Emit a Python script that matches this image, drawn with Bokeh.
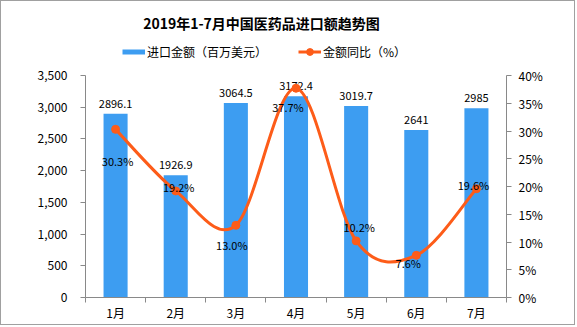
from bokeh.plotting import figure
from bokeh.models import (ColumnDataSource, Range1d, LinearAxis, FixedTicker, NumeralTickFormatter,
                          PrintfTickFormatter, CustomJSTickFormatter, Label, Legend, LegendItem)
from bokeh.core.properties import value
from bokeh.embed import file_html
from bokeh.resources import INLINE

# ---- data ----
title_text = "2019年1-7月中国医药品进口额趋势图"
months = ["1月", "2月", "3月", "4月", "5月", "6月", "7月"]
import_value = [2896.1, 1926.9, 3064.5, 3172.4, 3019.7, 2641, 2985]   # 百万美元
growth_pct = [30.3, 19.2, 13.0, 37.7, 10.2, 7.6, 19.6]                # %
left_ticks = [0, 500, 1000, 1500, 2000, 2500, 3000, 3500]
right_ticks = [0, 5, 10, 15, 20, 25, 30, 35, 40]
series_names = ["进口金额（百万美元）", "金额同比（%）"]

# label nudges (screen px) for the percentage labels, as placed in the original
pct_label_dx = [2, 3, -4, -8, 3, -8, -3]
pct_label_dy = [32, -4, 20, 19, -14, 8, -4]

BLUE = "#3d9df1"
ORANGE = "#fd5c19"
AXIS = "#898989"
FONT = "Noto Sans CJK SC"

# layout (px): plotting area spans canvas rows 0..FRAME_H, axes occupy the lower AXIS_H px
FRAME_H = 296
AXIS_H = 222
stretch = FRAME_H / AXIS_H

n = len(months)
xs = [i + 0.5 for i in range(n)]

src = ColumnDataSource(dict(
    x=xs,
    value=import_value,
    vlabel=["{:g}".format(v) for v in import_value],
    growth=growth_pct,
    glabel=["{:.1f}%".format(g) for g in growth_pct],
    dx=pct_label_dx,
    dy=pct_label_dy,
))

p = figure(width=575, height=325, output_backend="svg", toolbar_location=None,
           x_range=Range1d(0, n),
           y_range=Range1d(left_ticks[0], left_ticks[-1] * stretch),
           min_border_left=84, min_border_right=70, min_border_top=0, min_border_bottom=29)
p.styles = {"border": "1px solid #a0a0a0"}
p.outline_line_color = None
p.xgrid.grid_line_color = None
p.ygrid.grid_line_color = None
p.background_fill_color = "white"
p.border_fill_color = "white"

p.extra_y_ranges = {"pct": Range1d(right_ticks[0], right_ticks[-1] * stretch)}

# ---- axes ----
xa = p.xaxis[0]
xa.ticker = FixedTicker(ticks=xs, minor_ticks=list(range(n + 1)))
xa.formatter = CustomJSTickFormatter(args=dict(labels=months),
                                     code="return labels[Math.floor(tick)] || ''")
xa.major_tick_line_color = None
xa.major_tick_out = 0
xa.major_tick_in = 0
xa.minor_tick_line_color = AXIS
xa.minor_tick_out = 5
xa.minor_tick_in = 0
xa.axis_line_color = AXIS
xa.major_label_standoff = 1
xa.major_label_text_font = FONT
xa.major_label_text_font_size = "12px"
xa.major_label_text_color = "#000000"

ya = p.yaxis[0]
ya.ticker = FixedTicker(ticks=left_ticks)
ya.bounds = (left_ticks[0], left_ticks[-1])
ya.formatter = NumeralTickFormatter(format="0,0")
ya.axis_line_color = AXIS
ya.major_tick_line_color = AXIS
ya.major_tick_out = 5
ya.major_tick_in = 0
ya.minor_tick_line_color = None
ya.major_label_standoff = 13
ya.major_label_text_font = FONT
ya.major_label_text_font_size = "12px"
ya.major_label_text_color = "#000000"

ra = LinearAxis(y_range_name="pct", ticker=FixedTicker(ticks=right_ticks),
                bounds=(right_ticks[0], right_ticks[-1]),
                formatter=PrintfTickFormatter(format="%d%%"))
ra.axis_line_color = AXIS
ra.major_tick_line_color = AXIS
ra.major_tick_out = 5
ra.major_tick_in = 0
ra.minor_tick_line_color = None
ra.major_label_standoff = 7
ra.major_label_text_font = FONT
ra.major_label_text_font_size = "12px"
ra.major_label_text_color = "#000000"
p.add_layout(ra, "right")

# ---- bars ----
p.vbar(x="x", top="value", width=0.4, source=src, fill_color=BLUE, line_color=None)
p.text(x="x", y="value", text="vlabel", source=src, y_offset=-10,
       text_align="center", text_baseline="middle",
       text_font=value(FONT), text_font_size="11px", text_color="#000000")

# ---- smoothed growth line (Catmull-Rom -> cubic Bezier segments) ----
bx0, by0, bx1, by1, cx0, cy0, cx1, cy1 = [], [], [], [], [], [], [], []
for i in range(n - 1):
    xm, ym = (xs[i - 1], growth_pct[i - 1]) if i > 0 else (xs[i], growth_pct[i])
    xp2, yp2 = (xs[i + 2], growth_pct[i + 2]) if i + 2 < n else (xs[i + 1], growth_pct[i + 1])
    bx0.append(xs[i]); by0.append(growth_pct[i])
    bx1.append(xs[i + 1]); by1.append(growth_pct[i + 1])
    cx0.append(xs[i] + (xs[i + 1] - xm) / 6.0)
    cy0.append(growth_pct[i] + (growth_pct[i + 1] - ym) / 6.0)
    cx1.append(xs[i + 1] - (xp2 - xs[i]) / 6.0)
    cy1.append(growth_pct[i + 1] - (yp2 - growth_pct[i]) / 6.0)
p.bezier(x0=bx0, y0=by0, x1=bx1, y1=by1, cx0=cx0, cy0=cy0, cx1=cx1, cy1=cy1,
         y_range_name="pct", line_color=ORANGE, line_width=3)
dots = p.scatter(x="x", y="growth", source=src, y_range_name="pct", size=8,
                 fill_color=ORANGE, line_color=ORANGE)
p.text(x="x", y="growth", text="glabel", source=src, y_range_name="pct",
       x_offset="dx", y_offset="dy", text_align="center", text_baseline="middle",
       text_font=value(FONT), text_font_size="11px", text_color="#000000")

# ---- legend (swatch-only renderers, nothing drawn in the plot) ----
nan = float("nan")
leg_bar = p.line(x=[nan], y=[nan], line_color=BLUE, line_width=5)
leg_line = p.line(x=[nan], y=[nan], line_color=ORANGE, line_width=3)
legend = Legend(items=[LegendItem(label=series_names[0], renderers=[leg_bar]),
                       LegendItem(label=series_names[1], renderers=[leg_line, dots])],
                orientation="horizontal", location=(37, 237),
                background_fill_alpha=0, border_line_color=None,
                padding=0, margin=0, spacing=31, label_standoff=2,
                glyph_width=23, glyph_height=17,
                label_text_font=FONT, label_text_font_size="12px",
                label_text_color="#000000")
p.add_layout(legend, "center")

# ---- title ----
p.add_layout(Label(x=176, y=275, x_units="screen", y_units="screen", text=title_text,
                   text_align="center", text_baseline="middle",
                   text_font=FONT, text_font_size="14px", text_font_style="bold",
                   text_color="#000000"))

open("out.html", "w").write(file_html(p, INLINE))
